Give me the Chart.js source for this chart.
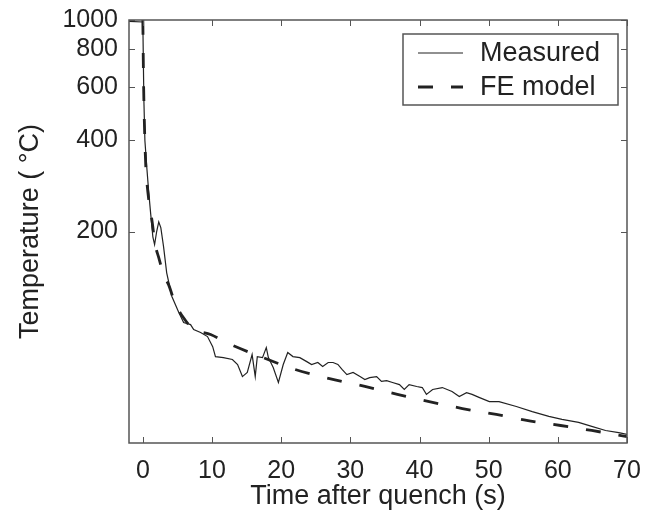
<!DOCTYPE html>
<html>
<head>
<meta charset="utf-8">
<script src="https://cdn.jsdelivr.net/npm/chart.js@4.4.0/dist/chart.umd.min.js"></script>
<style>
  html, body { margin: 0; padding: 0; background: #fff; }
  #wrap { width: 647px; height: 514px; }
</style>
</head>
<body>
<div id="wrap"><canvas id="chart" width="647" height="514"></canvas></div>
<script>
// ─── DATA ────────────────────────────────────────────────────────────────────
const measuredT = [-2, 0, 0.15, 0.3, 0.6, 0.85, 1.15, 1.45, 1.7, 2.0, 2.3, 2.6, 3.0, 3.45, 4.2,
  5.2, 5.9, 6.9, 7.35, 8.35, 9.35, 10.1, 10.5, 11.65, 12.95, 13.7, 14.4, 15.1, 15.8, 16.25,
  16.55, 17.3, 17.85, 18.15, 18.85, 19.6, 20.3, 20.95, 21.7, 22.7, 23.7, 24.4, 25.3, 26.0,
  26.8, 27.5, 28.2, 28.8, 29.5, 30.4, 31.4, 32.1, 32.8, 33.8, 34.5, 35.25, 36.1, 37.1, 37.8,
  38.5, 39.6, 40.4, 41.0, 41.9, 43.3, 44.7, 45.75, 46.8, 47.6, 48.6, 50.1, 51.5, 54.0, 56.3,
  58.7, 60.6, 63.0, 64.9, 66.9, 68.8, 70.0];
const measuredV = [990, 985, 545, 399, 320, 270, 227, 192, 181, 200, 215, 206, 178, 146, 122,
  108, 100, 98.5, 94.8, 92.7, 89.9, 83.3, 77.2, 76.6, 75.5, 72.7, 66.3, 68.4, 78.4, 66.3,
  77.2, 76.6, 82.7, 76.6, 71.0, 63.4, 72.7, 79.6, 77.2, 76.6, 74.3, 72.7, 73.8, 71.6,
  73.8, 73.8, 72.7, 70.0, 67.3, 68.4, 66.3, 64.8, 65.8, 66.3, 63.9, 64.3, 63.4, 62.4, 60.1,
  62.4, 61.5, 61.0, 57.9, 60.1, 61.0, 59.2, 57.0, 58.7, 57.9, 56.6, 54.8, 54.8, 52.8, 50.8,
  49.0, 47.9, 46.8, 45.4, 44.0, 43.3, 42.7];

const modelT = [0, 0.15, 0.45, 0.85, 1.3, 1.85, 2.3, 3.0, 3.75, 4.6, 5.6, 7.35, 9.8, 12.7,
  17, 22, 27, 32.1, 36.8, 41.4, 46.2, 51.1, 55.5, 60.4, 64.9, 70];
const modelV = [1000, 545, 320, 255, 219, 178, 164, 144, 133, 117, 106, 95, 91.3, 84.6,
  77.2, 70, 65.3, 61.5, 57.9, 54.8, 52.0, 49.7, 47.5, 45.7, 44.0, 42.0];

const xTicks = [0, 10, 20, 30, 40, 50, 60, 70];
const yTicks = [200, 400, 600, 800, 1000];
const xRange = [-2, 70];
const yRange = [40, 1000];

// ─── STYLE ───────────────────────────────────────────────────────────────────
const INK = '#222';
const FRAME = '#555';
const FONT = "'Liberation Sans', Arial, sans-serif";

const pts = (xs, ys) => xs.map((x, i) => ({ x, y: ys[i] }));

// inward ticks on all four sides + axis box (matlab look)
const framePlugin = {
  id: 'frame',
  afterDatasetsDraw(chart) {
    const { ctx, chartArea: a, scales: { x, y } } = chart;
    const len = 6;
    ctx.save();
    ctx.strokeStyle = FRAME;
    ctx.lineWidth = 1.5;
    ctx.strokeRect(a.left, a.top, a.right - a.left, a.bottom - a.top);
    ctx.lineWidth = 1;
    ctx.beginPath();
    xTicks.forEach(v => {
      const px = Math.round(x.getPixelForValue(v)) + 0.5;
      ctx.moveTo(px, a.bottom); ctx.lineTo(px, a.bottom - len);
      ctx.moveTo(px, a.top);    ctx.lineTo(px, a.top + len);
    });
    yTicks.forEach(v => {
      const py = Math.round(y.getPixelForValue(v)) + 0.5;
      ctx.moveTo(a.left, py);  ctx.lineTo(a.left + len, py);
      ctx.moveTo(a.right, py); ctx.lineTo(a.right - len, py);
    });
    ctx.stroke();
    ctx.restore();
  }
};

// boxed legend in the top right corner of the axes
const legendPlugin = {
  id: 'boxLegend',
  afterDraw(chart) {
    const { ctx, chartArea: a } = chart;
    const box = { left: a.right - 224, top: a.top + 14, w: 215, h: 71 };
    ctx.save();
    ctx.fillStyle = '#fff';
    ctx.fillRect(box.left, box.top, box.w, box.h);
    ctx.strokeStyle = FRAME;
    ctx.lineWidth = 1.5;
    ctx.strokeRect(box.left, box.top, box.w, box.h);
    ctx.font = `27px ${FONT}`;
    ctx.textBaseline = 'middle';
    chart.data.datasets.forEach((ds, i) => {
      const cy = box.top + 19 + i * 34;
      ctx.strokeStyle = ds.borderColor;
      ctx.lineWidth = ds.borderWidth;
      ctx.setLineDash(ds.borderDash || []);
      ctx.beginPath();
      ctx.moveTo(box.left + 15, cy);
      ctx.lineTo(box.left + 60, cy);
      ctx.stroke();
      ctx.setLineDash([]);
      ctx.fillStyle = INK;
      ctx.fillText(ds.label, box.left + 77, cy + 1);
    });
    ctx.restore();
  }
};

// label offset comes from an invisible tick mark so the scales don't pad the chart edges
const hiddenTickGrid = { display: true, drawOnChartArea: false, drawTicks: true,
                         tickLength: 11, tickColor: 'rgba(0,0,0,0)' };

// ─── CHART ───────────────────────────────────────────────────────────────────
new Chart(document.getElementById('chart'), {
  type: 'line',
  data: {
    datasets: [
      { label: 'Measured', data: pts(measuredT, measuredV), borderColor: INK,
        borderWidth: 1.2, pointRadius: 0, tension: 0, fill: false },
      { label: 'FE model', data: pts(modelT, modelV), borderColor: INK,
        borderWidth: 2.8, borderDash: [15, 18], pointRadius: 0, tension: 0.3, fill: false },
    ]
  },
  options: {
    responsive: false,
    animation: false,
    layout: { padding: { left: 0, right: 20, top: 20, bottom: 0 } },
    plugins: { legend: { display: false }, tooltip: { enabled: false } },
    scales: {
      x: {
        type: 'linear', min: xRange[0], max: xRange[1],
        afterBuildTicks: s => { s.ticks = xTicks.map(v => ({ value: v })); },
        afterFit: s => { s.height = 71; },
        grid: hiddenTickGrid,
        border: { display: false },
        ticks: { color: INK, font: { family: FONT, size: 25 }, padding: 2, maxRotation: 0 },
        title: { display: true, text: 'Time after quench (s)', color: INK,
                 font: { family: FONT, size: 27 }, padding: { top: 0, bottom: 1 } },
      },
      y: {
        type: 'logarithmic', min: yRange[0], max: yRange[1],
        afterBuildTicks: s => { s.ticks = yTicks.map(v => ({ value: v })); },
        afterFit: s => { s.width = 129; },
        grid: hiddenTickGrid,
        border: { display: false },
        ticks: { color: INK, font: { family: FONT, size: 25 }, padding: 0,
                 callback: v => String(v) },
        title: { display: true, text: 'Temperature ( °C)', color: INK,
                 font: { family: FONT, size: 27 }, padding: { top: 14, bottom: 0 } },
      }
    }
  },
  plugins: [framePlugin, legendPlugin]
});
</script>
</body>
</html>
